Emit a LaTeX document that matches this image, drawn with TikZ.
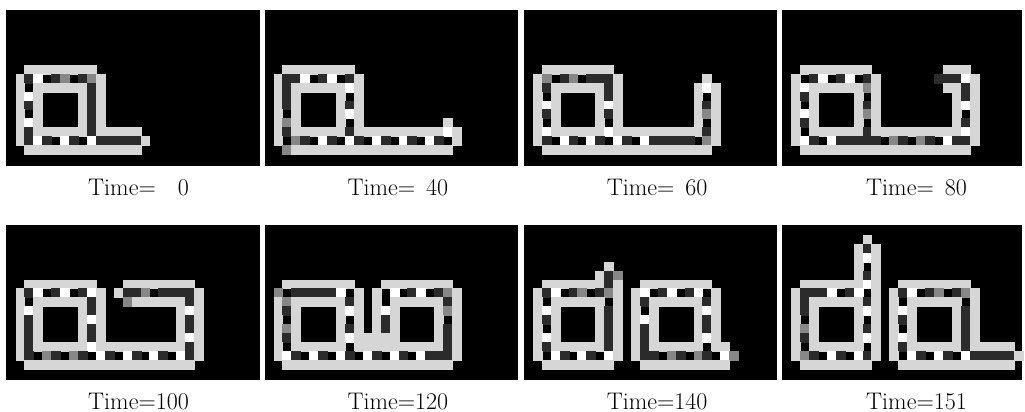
\documentclass[tikz,border=0pt]{standalone}
\usetikzlibrary{positioning}

\definecolor{cellLite}{gray}{0.84}
\definecolor{cellDark}{gray}{0.17}
\definecolor{cellMid}{gray}{0.53}

% one cell of a row string: L light, W white, D dark, G grey, K black, - empty
\newcount\pixcol
\newcommand\pixcell[1]{%
  \if L#1\fill[pxLite] (\the\pixcol,\r) rectangle ++(1,1);\fi
  \if W#1\fill[pxWhite] (\the\pixcol,\r) rectangle ++(1,1);\fi
  \if D#1\fill[pxDark] (\the\pixcol,\r) rectangle ++(1,1);\fi
  \if G#1\fill[pxMid] (\the\pixcol,\r) rectangle ++(1,1);\fi}
\def\pixscan#1{\ifx\relax#1\else\pixcell{#1}\advance\pixcol by 1\relax\expandafter\pixscan\fi}
\newcommand\pixrow[1]{\pixcol=0 \expandafter\pixscan#1\relax}
% a grid: origin x, origin y, first row, rows
\newcommand\pixgrid[4]{%
  \begin{scope}[shift={(#1,#2)}, x=8.93pt, y=-8.93pt]
    \foreach \s [count=\r from #3] in {#4} {\pixrow{\s}}
  \end{scope}}

\begin{document}
\begin{tikzpicture}[x=1pt, y=-1pt,
    panel/.style={fill=black},
    pxLite/.style={fill=cellLite, draw=cellLite, line width=0.4pt},
    pxWhite/.style={fill=white, draw=white, line width=0.4pt},
    pxDark/.style={fill=cellDark, draw=cellDark, line width=0.4pt},
    pxMid/.style={fill=cellMid, draw=cellMid, line width=0.4pt},
    stamp/.style={anchor=base west, inner sep=0pt, font=\fontsize{24}{28}\selectfont}
  ]
  \useasboundingbox (0,0) rectangle (1025,412);
  \fill[white] (0,0) rectangle (1025,412);

  % black frames
  \foreach \py in {10,224.7} {
    \fill[panel] (6,\py) rectangle ++(253.5,155.5);
    \fill[panel] (264.7,\py) rectangle ++(253.3,155.5);
    \fill[panel] (524,\py) rectangle ++(253,155.5);
    \fill[panel] (782,\py) rectangle ++(240,155.5);
  }

  % Time = 0
  \pixgrid{15.7}{65}{0}{-LLLLLLLL, LDWKDGKDGL, LKLLLLLLDL, LWL----LDL, LDL----LDL,
    LKL----LDL, LWL----LDL, LDLLLLLLDLLLLL, LDWDKWDKWDDDDDL, -LLLLLLLLLLLLL}
  % Time = 40
  \pixgrid{273.7}{65}{0}{-LLLLLLLL, LDDWKDWKDL, LDLLLLLLWL, LDL----LKL, LDL----LDL,
    LKL----LWL, LGL----LKL---------L, LDLLLLLLDLLLLLLLLLLWL,
    LKGDKWDKWDKWDKWDKWDKL, -GLLLLLLLLLLLLLLLLLL}
  % Time = 60
  \pixgrid{533}{65}{0}{-LLLLLLLL, LGKDGKDDDL---------L, LDLLLLLLDL--------LWL,
    LKL----LDL--------LKL, LWL----LWL--------LDL, LDL----LDL--------LGL,
    LKL----LKL--------LKL, LWLLLLLLWLLLLLLLLLLDL, LDKWDKWDKWDKWDDDDDKGL,
    -LLLLLLLLLLLLLLLLLLL}
  % Time = 80
  \pixgrid{791.3}{65}{0}{-LLLLLLLL--------LLL, LKDWKDWKDL------DDDWL,
    LWLLLLLLGL-------LLDL, LDL----LKL--------LDL, LKL----LDL--------LWL,
    LWL----LGL--------LKL, LDL----LKL--------LDL, LKLLLLLLDLLLLLLLLLLWL,
    LWDKWDDDDDKGDKGDKWDDL, -LLLLLLLLLLLLLLLLLLL}
  % Time = 100
  \pixgrid{15.7}{279.7}{0}{-LLLLLLLL---LLLLLLLL, LDWKDWKDWL-LDDGKDDDDL,
    LKLLLLLLDL--GLLLLLLDL, LWL----LDL--------LWL, LDL----LWL--------LDL,
    LDL----LDL--------LDL, LDL----LDL--------LWL, LDLLLLLLWLLLLLLLLLLDL,
    LDKGDKGDKWDKWDKWDKWDL, -LLLLLLLLLLLLLLLLLLL}
  % Time = 120
  \pixgrid{273.7}{279.7}{0}{-LLLLLLLL---LLLLLLLL, GKDDDDDWKL-LKWKDWKDGL,
    LGLLLLLLDL-LKLLLLLLDL, LDL----LWL-LWL----LGL, LKL----LKL-LDL----LKL,
    LGL----LDL-LDL----LDL, LDL----LWLLLLL----LDL, LKLLLLLLKLLLLLLLLLLDL,
    LWDKWDKWDKWDKWDKWDDDL, -LLLLLLLLLLLLLLLLLLL}
  % Time = 140
  \pixgrid{533}{279.7}{-2}{--------L, -------LDG, -LLLLLLLDL--LLLLLLLL,
    LDWKDGKDGL-LWKDWKDWKL, LKLLLLLLKL-LDLLLLLLDL, LWL----LDL-LKL----LWL,
    LDL----LDL-LWL----LDL, LKL----LDL-LDL----LDL, LWL----LDL-LDL----LWL,
    LDLLLLLLDL-LDLLLLLLKLL, LKWDKWDKWL-LDDKGDKGDKWG, -LLLLLLLL---LLLLLLLLLL}
  % Time = 151
  \pixgrid{791.3}{279.7}{-5}{--------L, -------LDL, -------LWL, -------LKL, -------LDL,
    -LLLLLLLWL--LLLLLLLL, LDDDWKDWKL-LDWKDGKDGL, LDLLLLLLDL-LKLLLLLLKL,
    LDL----LWL-LWL----LDL, LKL----LKL-LDL----LDL, LGL----LDL-LKL----LDL,
    LDL----LWL-LWL----LDL, LKLLLLLLKL-LDLLLLLLDLLLLL,
    LGDKWDKWDL-LKWDKWDKWDDDDDL, -LLLLLLLL---LLLLLLLLLLLLL}

  % captions
  \node[stamp] (t0)   at (88,195)    {Time=\phantom{00}0};
  \node[stamp] (t40)  at (347.3,195) {Time=\phantom{0}40};
  \node[stamp] (t60)  at (606.6,195) {Time=\phantom{0}60};
  \node[stamp] (t80)  at (866,195)   {Time=\phantom{0}80};
  \node[stamp] (t100) at (88,409)    {Time=100};
  \node[stamp] (t120) at (347.3,409) {Time=120};
  \node[stamp] (t140) at (606.6,409) {Time=140};
  \node[stamp] (t151) at (866,409)   {Time=151};
\end{tikzpicture}
\end{document}
